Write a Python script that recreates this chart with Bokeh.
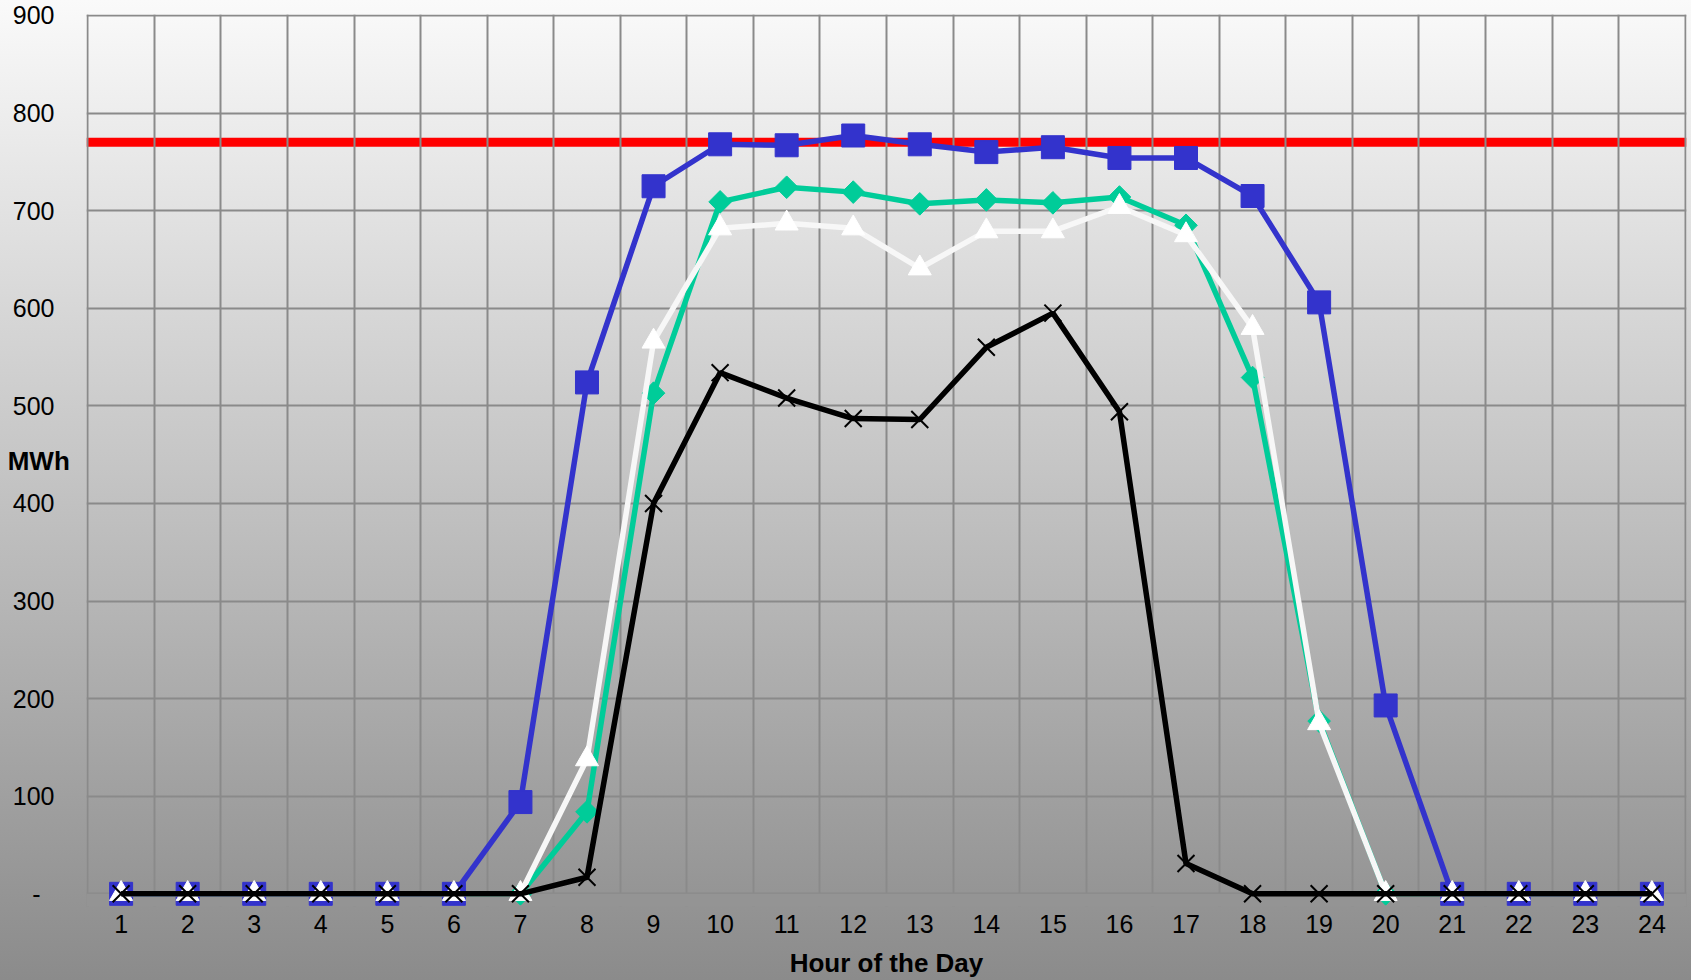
import numpy as np
from bokeh.plotting import figure
from bokeh.models import FixedTicker, Span, BoxAnnotation, ColumnDataSource
from bokeh.embed import file_html
from bokeh.resources import INLINE

# ---- data ----
hours = list(range(1, 25))
hour_labels = [str(h) for h in hours]
series_green = [0, 0, 0, 0, 0, 0, 0, 84, 513, 709, 724, 719, 707, 711, 708, 714, 685, 529, 177, 0, 0, 0, 0, 0]
series_blue = [0, 0, 0, 0, 0, 0, 94, 524, 725, 768, 767, 777, 768, 760, 765, 754, 754, 715, 606, 193, 0, 0, 0, 0]
series_white = [0, 0, 0, 0, 0, 0, 0, 138, 566, 682, 687, 682, 641, 679, 679, 704, 675, 580, 175, 0, 0, 0, 0, 0]
series_black = [0, 0, 0, 0, 0, 0, 0, 17, 400, 534, 508, 487, 486, 560, 595, 494, 31, 0, 0, 0, 0, 0, 0, 0]
limit_mwh = 770
y_ticks = [0, 100, 200, 300, 400, 500, 600, 700, 800, 900]
y_tick_labels = ["-", "100", "200", "300", "400", "500", "600", "700", "800", "900"]

FONT = "Liberation Sans"
TOP_C, BOT_C = "#fafafa", "#8b8b8b"

p = figure(width=1691, height=980, x_range=(0.48, 24.52), y_range=(-13, 901),
           output_backend="svg", toolbar_location=None,
           min_border_left=86, min_border_right=5, min_border_top=14, min_border_bottom=73)

p.styles = {"background": f"linear-gradient(to bottom, {TOP_C} 0%, {BOT_C} 100%)"}
try:
    from bokeh.models import GlobalInlineStyleSheet
    p.stylesheets = [GlobalInlineStyleSheet(
        css=f"html{{height:100%;background:linear-gradient(to bottom,{TOP_C} 0%,{BOT_C} 100%);}}")]
except Exception:
    pass

p.background_fill_alpha = 0
p.border_fill_alpha = 0
p.outline_line_color = None

# grids
p.xgrid.ticker = FixedTicker(ticks=[h - 0.5 for h in hours] + [24.5])
p.ygrid.ticker = FixedTicker(ticks=y_ticks)
for g in (p.xgrid, p.ygrid):
    g.grid_line_color = "#8a8a8a"
    g.grid_line_width = 2

# hide the grid below the zero line (markers at zero overflow like the original)
p.add_layout(BoxAnnotation(top=0, fill_color="#949494", fill_alpha=1.0,
                           line_color=None, level="underlay"))

# axes
p.xaxis.ticker = FixedTicker(ticks=hours)
p.xaxis.major_label_overrides = {h: l for h, l in zip(hours, hour_labels)}
p.yaxis.ticker = FixedTicker(ticks=y_ticks)
overrides = {t: l for t, l in zip(y_ticks, y_tick_labels)}
overrides[0] = "-\u00a0\u00a0"
p.yaxis.major_label_overrides = overrides
for ax in (p.xaxis, p.yaxis):
    ax.axis_line_color = None
    ax.major_tick_line_color = None
    ax.minor_tick_line_color = None
    ax.major_tick_in = 0
    ax.major_tick_out = 0
    ax.major_label_text_font = FONT
    ax.major_label_text_font_size = "25px"
    ax.major_label_text_color = "#000000"
    ax.axis_label_text_font = FONT
    ax.axis_label_text_font_size = "26px"
    ax.axis_label_text_font_style = "bold"
    ax.axis_label_text_color = "#000000"
p.yaxis.major_label_standoff = 32
p.xaxis.major_label_standoff = 8
p.xaxis.axis_label = "Hour of the Day"
p.xaxis.axis_label_standoff = 12
p.yaxis.axis_label = "MWh"
p.yaxis.axis_label_orientation = "horizontal"
p.yaxis.axis_label_standoff = -60
p.yaxis.axis_label_text_baseline = "alphabetic"

# limit line (behind grid)
p.add_layout(Span(location=limit_mwh, dimension="width", line_color="#ff0000",
                  line_width=9, level="image"))

src = ColumnDataSource(dict(x=hours, green=series_green, blue=series_blue,
                            white=series_white, black=series_black))

LW = 5.5
# green diamonds
p.line("x", "green", source=src, line_color="#00cc99", line_width=LW)
p.scatter("x", "green", source=src, marker="square", angle=np.pi / 4, size=16,
          fill_color="#00cc99", line_color="#00cc99")
# blue squares
p.line("x", "blue", source=src, line_color="#3333cc", line_width=LW)
p.scatter("x", "blue", source=src, marker="square", size=23,
          fill_color="#3333cc", line_color="#3333cc")
# white triangles
p.line("x", "white", source=src, line_color="#f7f7f7", line_width=LW)
p.scatter("x", "white", source=src, marker="triangle", size=23,
          fill_color="#ffffff", line_color="#ffffff")
# black crosses
p.line("x", "black", source=src, line_color="#000000", line_width=LW)
p.scatter("x", "black", source=src, marker="x", size=24,
          line_color="#000000", line_width=2)

open("out.html", "w").write(file_html(p, INLINE))
